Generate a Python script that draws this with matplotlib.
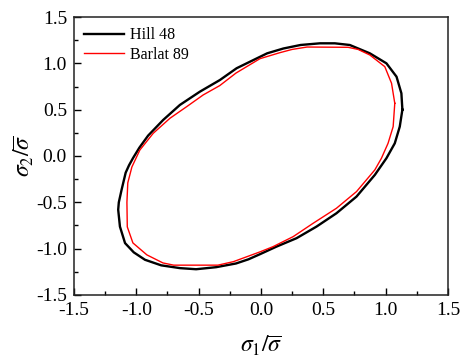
import matplotlib
matplotlib.use("Agg")
import matplotlib.pyplot as plt
from matplotlib.ticker import MultipleLocator

plt.rcParams["font.family"] = ["Liberation Serif", "DejaVu Serif"]
plt.rcParams["mathtext.fontset"] = "stix"

# Hill 48 yield locus, counter-clockwise from the right side
hill_s1 = [1.135, 1.127, 1.088, 1.007, 0.874, 0.713, 0.593, 0.473, 0.318, 0.18, 0.05,
           -0.008, -0.195, -0.329, -0.49, -0.65, -0.784, -0.905, -0.975, -1.025, -1.058,
           -1.085, -1.118, -1.14, -1.145, -1.131, -1.09, -1.02, -0.93, -0.80, -0.65, -0.52,
           -0.36, -0.20, -0.10, -0.008, 0.125, 0.286, 0.446, 0.606, 0.767, 0.914, 1.007,
           1.074, 1.114, 1.135]
hill_s2 = [0.50, 0.677, 0.856, 1.0, 1.108, 1.198, 1.216, 1.216, 1.198, 1.16, 1.108,
           1.07, 0.947, 0.82, 0.694, 0.551, 0.389, 0.22, 0.09, -0.02, -0.10,
           -0.18, -0.366, -0.50, -0.58, -0.762, -0.94, -1.04, -1.12, -1.18, -1.21, -1.222,
           -1.20, -1.16, -1.115, -1.06, -0.978, -0.887, -0.762, -0.618, -0.438, -0.204, -0.024,
           0.137, 0.317, 0.50]

# Barlat 89 yield locus
barlat_s1 = [1.074, 1.048, 0.994, 0.874, 0.78, 0.70, 0.37, 0.25, 0.152, -0.008, -0.20,
             -0.33, -0.463, -0.596, -0.73, -0.864, -0.971, -1.035, -1.068, -1.075, -1.072,
             -1.027, -0.915, -0.786, -0.70, -0.345, -0.22, -0.008, 0.098, 0.259, 0.419,
             0.606, 0.767, 0.914, 0.967, 1.02, 1.061, 1.074]
barlat_s2 = [0.569, 0.785, 0.964, 1.09, 1.15, 1.173, 1.176, 1.15, 1.115, 1.05, 0.895,
             0.76, 0.659, 0.532, 0.407, 0.245, 0.065, -0.118, -0.29, -0.50, -0.765,
             -0.938, -1.067, -1.154, -1.178, -1.178, -1.14, -1.035, -0.978, -0.87, -0.726,
             -0.564, -0.384, -0.15, -0.024, 0.137, 0.317, 0.569]

fig = plt.figure(figsize=(4.68, 3.58), dpi=100)
ax = fig.add_axes([0.158, 0.176, 0.799, 0.7765])

ax.plot(hill_s1, hill_s2, color="black", lw=1.7, label="Hill 48")
ax.plot(barlat_s1, barlat_s2, color="red", lw=1.0, label="Barlat 89")

ax.set_xlim(-1.5, 1.5)
ax.set_ylim(-1.5, 1.5)
ax.xaxis.set_major_locator(MultipleLocator(0.5))
ax.yaxis.set_major_locator(MultipleLocator(0.5))
ax.xaxis.set_minor_locator(MultipleLocator(0.25))
ax.yaxis.set_minor_locator(MultipleLocator(0.25))
fmt = plt.FuncFormatter(lambda v, p: f"{v:.1f}")
ax.xaxis.set_major_formatter(fmt)
ax.yaxis.set_major_formatter(fmt)
ax.tick_params(which="both", direction="in", top=False, right=False, labelsize=14, width=1)
ax.tick_params(which="major", length=5, pad=5)
ax.tick_params(which="minor", length=3)
for sp in ax.spines.values():
    sp.set_linewidth(1.1)
    sp.set_color("#222222")

ax.set_xlabel(r"$\sigma_1/\overline{\sigma}$", fontsize=17, labelpad=11)
ax.set_ylabel(r"$\sigma_2/\overline{\sigma}$", fontsize=17, labelpad=0)

ax.legend(loc="upper left", frameon=False, fontsize=11.5, handlelength=2.5,
          handletextpad=0.35, labelspacing=0.2, borderaxespad=0.45, borderpad=0.2)

fig.savefig("out.png", dpi=100)
